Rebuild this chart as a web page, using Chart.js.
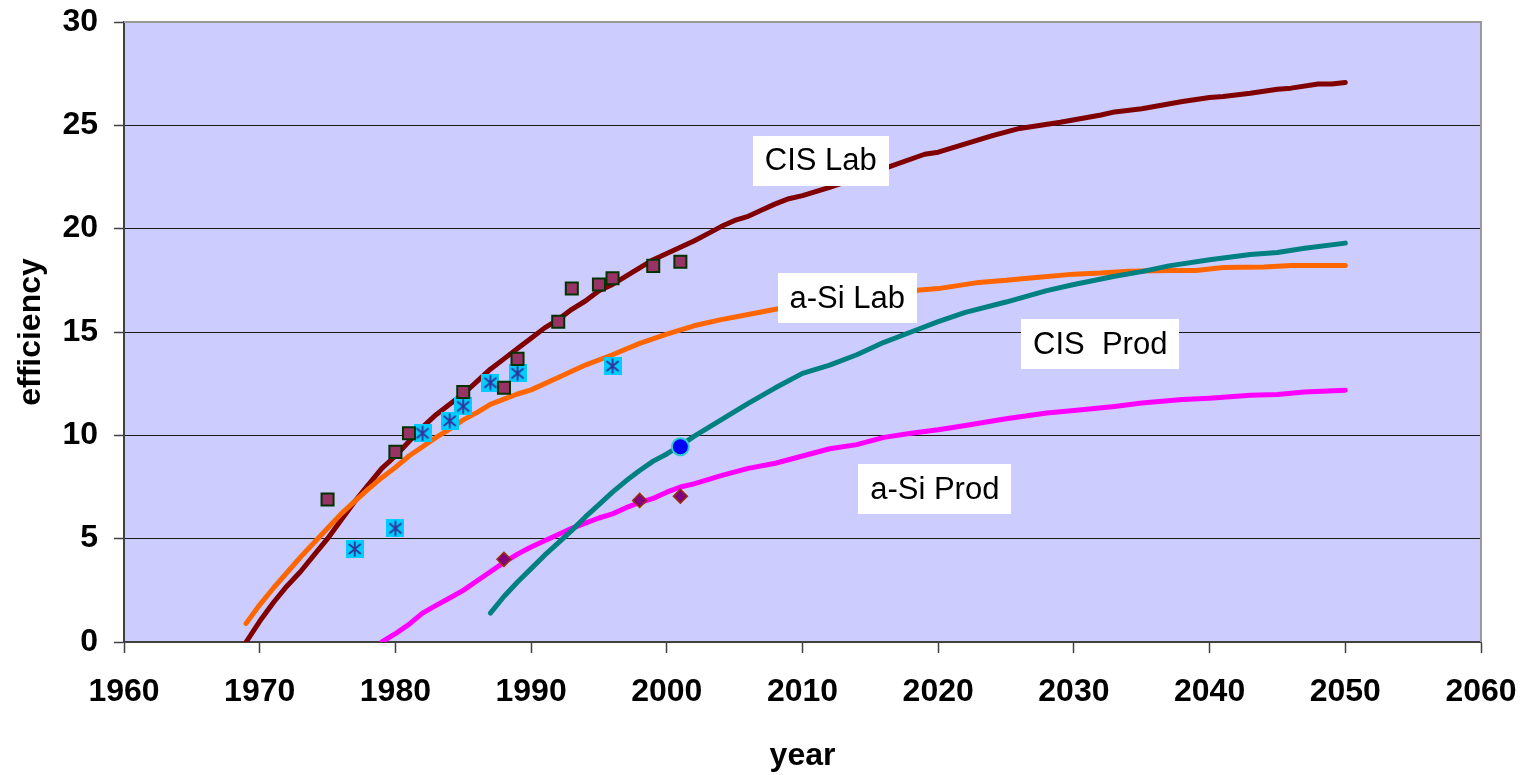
<!DOCTYPE html>
<html>
<head>
<meta charset="utf-8">
<title>Thin-film solar cell efficiency</title>
<script src="https://cdn.jsdelivr.net/npm/chart.js@4.4.1/dist/chart.umd.min.js"></script>
<style>
  html, body { margin: 0; padding: 0; background: #ffffff; }
  #wrap { width: 1526px; height: 775px; }
</style>
</head>
<body>
<div id="wrap"><canvas id="chart" width="1526" height="775"></canvas></div>
<script>
// ---- Trend curves (year, efficiency %) ----
const cisLabYears = [1969,1970,1971,1972,1973,1974,1975,1976,1977,1978,1979,1980,1981,1982,1983,1984,1985,1986,1987,1988,1989,1990,1991,1992,1993,1994,1995,1996,1997,1998,1999,2000,2001,2002,2003,2004,2005,2006,2007,2008,2009,2010,2012,2014,2016,2019,2020,2022,2024,2026,2029,2032,2033,2035,2038,2040,2041,2043,2045,2046,2048,2049,2050];
const cisLabEff   = [0,1.0,1.9,2.7,3.4,4.2,5.0,5.9,6.8,7.6,8.4,9.0,9.7,10.4,11.0,11.5,12.0,12.6,13.2,13.7,14.2,14.7,15.2,15.6,16.1,16.5,17.0,17.3,17.7,18.1,18.5,18.8,19.1,19.4,19.75,20.1,20.4,20.6,20.9,21.2,21.45,21.6,22.0,22.45,22.9,23.6,23.7,24.1,24.5,24.85,25.15,25.5,25.65,25.8,26.15,26.35,26.4,26.55,26.75,26.8,27.0,27.0,27.07];

const asiLabYears = [1969,1970,1971,1972,1973,1974,1975,1976,1977,1978,1979,1980,1981,1982,1983,1984,1985,1986,1987,1988,1989,1990,1992,1994,1996,1998,2000,2002,2004,2006,2008,2010,2012,2015,2018,2020,2023,2025,2027,2030,2032,2034,2037,2039,2041,2044,2046,2050];
const asiLabEff   = [0.9,1.8,2.6,3.35,4.1,4.8,5.5,6.2,6.8,7.4,7.95,8.45,9.0,9.45,9.9,10.3,10.75,11.1,11.5,11.75,12.0,12.2,12.8,13.4,13.9,14.45,14.9,15.3,15.6,15.85,16.1,16.3,16.5,16.75,17.0,17.1,17.4,17.5,17.63,17.8,17.85,17.94,17.98,17.98,18.12,18.15,18.22,18.22];

const cisProdYears = [1987,1988,1989,1990,1991,1992,1993,1994,1995,1996,1997,1998,1999,2000,2001,2002,2004,2006,2008,2010,2012,2014,2016,2018,2020,2022,2025,2028,2030,2033,2035,2037,2040,2043,2045,2047,2050];
const cisProdEff   = [1.4,2.2,2.9,3.55,4.2,4.8,5.4,6.05,6.65,7.25,7.8,8.3,8.75,9.1,9.5,9.95,10.75,11.55,12.3,13.0,13.4,13.9,14.5,15.0,15.5,15.95,16.45,17.0,17.3,17.7,17.92,18.2,18.5,18.75,18.85,19.05,19.3];

const asiProdYears = [1979,1980,1981,1982,1983,1984,1985,1986,1987,1988,1989,1990,1991,1992,1993,1994,1995,1996,1997,1998,1999,2000,2001,2002,2004,2006,2008,2010,2012,2014,2016,2018,2020,2022,2025,2028,2030,2033,2035,2038,2040,2043,2045,2047,2050];
const asiProdEff   = [0,0.4,0.85,1.4,1.77,2.13,2.5,2.95,3.4,3.85,4.25,4.6,4.9,5.2,5.5,5.75,6.0,6.2,6.5,6.75,6.95,7.25,7.5,7.65,8.05,8.4,8.65,9.0,9.35,9.55,9.9,10.1,10.27,10.48,10.8,11.08,11.2,11.4,11.56,11.73,11.8,11.94,11.98,12.1,12.18];

// ---- Recorded cell results ----
const cisLabRecYears = [1975,1980,1981,1985,1988,1989,1992,1993,1995,1996,1999,2001];
const cisLabRecEff   = [6.9,9.2,10.1,12.1,12.3,13.7,15.5,17.1,17.3,17.6,18.2,18.4];

const asiLabRecYears = [1977,1980,1982,1984,1985,1987,1989,1996];
const asiLabRecEff   = [4.5,5.5,10.1,10.7,11.4,12.55,13.0,13.35];

const cisProdRecYears = [2001];
const cisProdRecEff   = [9.45];

const asiProdRecYears = [1988,1998,2001];
const asiProdRecEff   = [4.0,6.85,7.05];

// ---- Axis ticks ----
const xTicks = [1960,1970,1980,1990,2000,2010,2020,2030,2040,2050,2060];
const yTicks = [0,5,10,15,20,25,30];

// ---- Curve captions ----
const captionTexts = ['CIS Lab', 'a-Si Lab', 'CIS  Prod', 'a-Si Prod'];
const captionAt = [
  { x: 2011.35, y: 23.29 },
  { x: 2013.3,  y: 16.64 },
  { x: 2031.94, y: 14.42 },
  { x: 2019.75, y: 7.40 }
];

const FONT = "'Liberation Sans', Arial, sans-serif";

function pairs(xs, ys) {
  return xs.map((x, i) => ({ x: x, y: ys[i] }));
}

// Cyan square with an asterisk, used as a point style
function starBoxIcon() {
  const s = 18;
  const c = document.createElement('canvas');
  c.width = s; c.height = s;
  const g = c.getContext('2d');
  g.fillStyle = '#00CCFF';
  g.fillRect(0, 0, s, s);
  g.strokeStyle = '#333399';
  g.lineWidth = 1.8;
  g.lineCap = 'butt';
  g.beginPath();
  g.moveTo(9, 1.5); g.lineTo(9, 16.5);
  g.moveTo(3, 4);   g.lineTo(15, 14);
  g.moveTo(15, 4);  g.lineTo(3, 14);
  g.stroke();
  return c;
}

const plotBackground = {
  id: 'plotBackground',
  beforeDraw(chart) {
    const { ctx, chartArea: a } = chart;
    ctx.save();
    ctx.fillStyle = '#CCCCFF';
    ctx.fillRect(a.left, a.top, a.right - a.left, a.bottom - a.top);
    ctx.restore();
  }
};

const plotFrame = {
  id: 'plotFrame',
  beforeDatasetsDraw(chart) {
    const { ctx, chartArea: a } = chart;
    ctx.save();
    ctx.strokeStyle = '#999999';
    ctx.lineWidth = 2;
    ctx.beginPath();
    ctx.moveTo(a.left, a.top);
    ctx.lineTo(a.right, a.top);
    ctx.lineTo(a.right, a.bottom);
    ctx.stroke();
    ctx.restore();
  }
};

const curveCaptions = {
  id: 'curveCaptions',
  afterDatasetsDraw(chart) {
    const { ctx } = chart;
    const xs = chart.scales.x, ys = chart.scales.y;
    ctx.save();
    ctx.font = '31px ' + FONT;
    ctx.textAlign = 'center';
    ctx.textBaseline = 'middle';
    captionTexts.forEach((t, i) => {
      const cx = xs.getPixelForValue(captionAt[i].x);
      const cy = ys.getPixelForValue(captionAt[i].y);
      const w = ctx.measureText(t).width + 24;
      const h = 50;
      ctx.fillStyle = '#FFFFFF';
      ctx.fillRect(Math.round(cx - w / 2), Math.round(cy - h / 2), Math.round(w), h);
      ctx.fillStyle = '#000000';
      ctx.fillText(t, cx, cy + 1);
    });
    ctx.restore();
  }
};

const lineStyle = {
  showLine: true,
  pointRadius: 0,
  pointHoverRadius: 0,
  borderWidth: 5,
  tension: 0,
  fill: false,
  borderCapStyle: 'round',
  borderJoinStyle: 'round'
};

new Chart(document.getElementById('chart'), {
  type: 'scatter',
  data: {
    datasets: [
      { label: 'CIS lab cells', data: pairs(cisLabRecYears, cisLabRecEff), showLine: false,
        pointStyle: 'rect', pointRadius: 8.5, backgroundColor: '#993366', borderColor: '#003300', borderWidth: 2 },
      { label: 'a-Si lab cells', data: pairs(asiLabRecYears, asiLabRecEff), showLine: false,
        pointStyle: starBoxIcon(), pointRadius: 9 },
      { label: 'CIS modules', data: pairs(cisProdRecYears, cisProdRecEff), showLine: false,
        pointStyle: 'circle', pointRadius: 8.5, backgroundColor: '#0000FF', borderColor: '#33CCCC', borderWidth: 2 },
      { label: 'a-Si modules', data: pairs(asiProdRecYears, asiProdRecEff), showLine: false,
        pointStyle: 'rectRot', pointRadius: 7, backgroundColor: '#800080', borderColor: '#993300', borderWidth: 1.5 },
      Object.assign({ label: 'CIS Prod', data: pairs(cisProdYears, cisProdEff), borderColor: '#008080' }, lineStyle),
      Object.assign({ label: 'a-Si Lab', data: pairs(asiLabYears, asiLabEff), borderColor: '#FF6600' }, lineStyle),
      Object.assign({ label: 'a-Si Prod', data: pairs(asiProdYears, asiProdEff), borderColor: '#FF00FF' }, lineStyle),
      Object.assign({ label: 'CIS Lab', data: pairs(cisLabYears, cisLabEff), borderColor: '#800000' }, lineStyle)
    ]
  },
  options: {
    responsive: false,
    animation: false,
    devicePixelRatio: 1,
    layout: { padding: { left: 0, right: 45, top: 22, bottom: 0 } },
    plugins: { legend: { display: false }, tooltip: { enabled: false } },
    scales: {
      x: {
        type: 'linear',
        min: xTicks[0],
        max: xTicks[xTicks.length - 1],
        afterBuildTicks(scale) { scale.ticks = xTicks.map(v => ({ value: v })); },
        afterFit(scale) {
          scale.height = 133;
          scale.paddingLeft = 0; scale.paddingRight = 0;
          scale.paddingTop = 0; scale.paddingBottom = 0;
        },
        ticks: {
          callback: v => String(v),
          color: '#000000',
          font: { family: FONT, size: 32, weight: 'bold' },
          padding: 20,
          maxRotation: 0,
          autoSkip: false
        },
        grid: { drawOnChartArea: false, drawTicks: true, tickLength: 11, tickColor: '#404040', tickWidth: 1.5 },
        border: { display: true, color: '#404040', width: 2 },
        title: {
          display: true, text: 'year', color: '#000000',
          font: { family: FONT, size: 32, weight: 'bold' },
          padding: { top: 4, bottom: 0 }
        }
      },
      y: {
        type: 'linear',
        min: yTicks[0],
        max: yTicks[yTicks.length - 1],
        afterBuildTicks(scale) { scale.ticks = yTicks.map(v => ({ value: v })); },
        afterFit(scale) {
          scale.width = 124;
          scale.paddingLeft = 0; scale.paddingRight = 0;
          scale.paddingTop = 0; scale.paddingBottom = 0;
        },
        ticks: {
          callback: v => String(v),
          color: '#000000',
          font: { family: FONT, size: 32, weight: 'bold' },
          padding: 16
        },
        grid: { color: '#1a1a1a', lineWidth: 1, drawTicks: true, tickLength: 10, tickColor: '#404040', tickWidth: 1.5 },
        border: { display: true, color: '#404040', width: 2 },
        title: {
          display: true, text: 'efficiency', color: '#000000',
          font: { family: FONT, size: 32, weight: 'bold' },
          padding: { top: 12, bottom: 0 }
        }
      }
    }
  },
  plugins: [plotBackground, plotFrame, curveCaptions]
});
</script>
</body>
</html>
